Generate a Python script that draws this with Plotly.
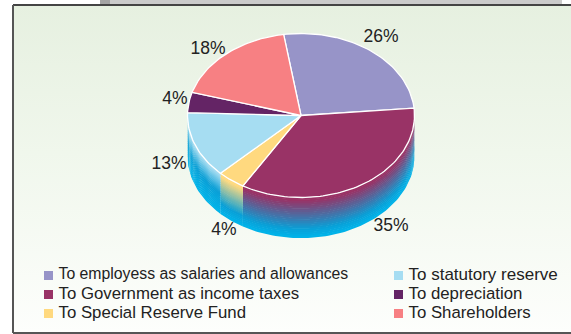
import numpy as np
import plotly.graph_objects as go

# Distribution of earnings
categories = [
    "To employess as salaries and allowances",
    "To Government as income taxes",
    "To Special Reserve Fund",
    "To statutory reserve",
    "To depreciation",
    "To Shareholders",
]
shares = [26, 35, 4, 13, 4, 18]
slice_colors = ["#9794c8", "#993366", "#ffd97f", "#a6ddf2", "#642465", "#f78083"]
# how far down the rim each slice takes to fade fully into the base colour
rim_fade = [0.8, 0.78, 0.75, 0.5, 0.8, 0.8]

# pie geometry, in page pixels
CX, CY, RX, RY, DEPTH = 301.0, 115.5, 113.5, 82.0, 40.0
START_ANGLE = -8.8
RIM_MID = "#0a9fd6"
RIM_BASE = "#00b4ea"
RIM_BANDS = 22

label_pos = [(381, 38), (391, 227), (224, 231), (169, 165), (175, 100), (208, 50)]
legend_pos = [(48.5, 275.5), (48.5, 294.5), (48.5, 313.5), (398.5, 275.5), (398.5, 294.5), (398.5, 313.5)]
legend_sizes = [15.8, 16.8, 16.8, 17, 16.8, 16.8]
LEGEND_TEXT_GAP = 10


def hex_rgb(c):
    return np.array([int(c[i:i + 2], 16) for i in (1, 3, 5)], float)


def mix(a, b, t):
    v = hex_rgb(a) * (1 - t) + hex_rgb(b) * t
    return "rgb(%d,%d,%d)" % tuple(v.round())


def rim_color(base, frac, fade):
    """Slice colour at the top of the rim, blue at the bottom."""
    if frac < fade:
        t = max(0.0, (frac / fade - 0.1) / 0.9)
        return mix(base, RIM_MID, t)
    return mix(RIM_MID, RIM_BASE, (frac - fade) / (1 - fade))


def arc(a0, a1, dy=0.0, n=None):
    """Points on the pie's rim; angles run clockwise from twelve o'clock."""
    n = n or max(2, int(abs(a1 - a0) / 1.5) + 2)
    t = np.radians(np.linspace(a0, a1, n))
    return CX + RX * np.sin(t), CY - RY * np.cos(t) + dy


fig = go.Figure()

# page furniture: grey strip above the panel, then the panel itself
fig.add_shape(type="rect", x0=100, x1=110, y0=0, y1=5, fillcolor="#a3a3a3", line_width=0, layer="below")
fig.add_shape(type="rect", x0=110, x1=562, y0=0, y1=5, fillcolor="#cbcbcb", line_width=0, layer="below")
fig.add_trace(go.Scatter(
    x=[13, 571, 571, 13, 13], y=[5, 5, 333, 333, 5], mode="lines", line_width=0,
    fill="toself", hoverinfo="skip",
    fillgradient=dict(type="vertical", start=5, stop=333,
                      colorscale=[[0, "#e6f0e0"], [0.45, "#f0f7ec"], [1, "#fdfefc"]]),
))

edges = START_ANGLE + np.cumsum([0] + shares) * 3.6

# rim: only the front half of the pie shows it
for i, share in enumerate(shares):
    a0, a1 = max(edges[i], 90.0), min(edges[i + 1], 270.0)
    if a1 <= a0:
        continue
    for b in range(RIM_BANDS):
        d0, d1 = DEPTH * b / RIM_BANDS, DEPTH * (b + 1) / RIM_BANDS + 0.6
        x0, y0 = arc(a0, a1, d0)
        x1, y1 = arc(a0, a1, d1)
        fig.add_trace(go.Scatter(
            x=np.r_[x0, x1[::-1], x0[0]], y=np.r_[y0, y1[::-1], y0[0]],
            mode="lines", line_width=0, fill="toself",
            fillcolor=rim_color(slice_colors[i], (b + 0.5) / RIM_BANDS, rim_fade[i]),
            hoverinfo="skip",
        ))

# top face
for i, share in enumerate(shares):
    x, y = arc(edges[i], edges[i + 1])
    fig.add_trace(go.Scatter(
        x=np.r_[CX, x, CX], y=np.r_[CY, y, CY], mode="lines",
        line=dict(color="white", width=1.3), fill="toself",
        fillcolor=slice_colors[i], hoverinfo="skip",
    ))

# percentage labels
fig.add_trace(go.Scatter(
    x=[p[0] for p in label_pos], y=[p[1] for p in label_pos], mode="text",
    text=[f"{v}%" for v in shares], textposition="middle center",
    textfont=dict(family="Liberation Sans", size=17.5, color="#222222"), hoverinfo="skip",
))

# legend, two columns
fig.add_trace(go.Scatter(
    x=[p[0] for p in legend_pos], y=[p[1] for p in legend_pos], mode="markers",
    marker=dict(symbol="square", size=9, color=slice_colors, line_width=0), hoverinfo="skip",
))
fig.add_trace(go.Scatter(
    x=[p[0] + LEGEND_TEXT_GAP for p in legend_pos], y=[p[1] for p in legend_pos], mode="text",
    text=categories, textposition="middle right",
    textfont=dict(family="Liberation Sans", size=legend_sizes, color="#222222"), hoverinfo="skip",
))

# panel border on top of everything
fig.add_shape(type="line", x0=13, x1=571, y0=5, y1=5, line=dict(color="#444444", width=2))
fig.add_shape(type="line", x0=13, x1=13, y0=5, y1=333, line=dict(color="#555555", width=2))
fig.add_shape(type="line", x0=13, x1=571, y0=333, y1=333, line=dict(color="#555555", width=2))

fig.update_layout(
    width=571, height=334, margin=dict(l=0, r=0, t=0, b=0),
    paper_bgcolor="white", plot_bgcolor="white", showlegend=False,
    xaxis=dict(range=[0, 571], visible=False, fixedrange=True),
    yaxis=dict(range=[334, 0], visible=False, fixedrange=True),
)
fig.write_html("out.html", config={"displayModeBar": False})
